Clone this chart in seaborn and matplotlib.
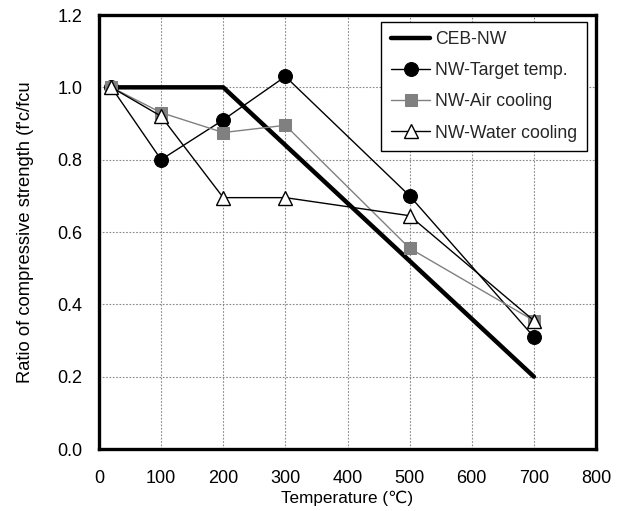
import matplotlib
matplotlib.use("Agg")
import matplotlib.pyplot as plt
import seaborn as sns
import pandas as pd

sns.set_theme(style="white")
plt.rcParams['font.family'] = ['Liberation Sans', 'DejaVu Sans']

ceb_temp = [20, 200, 700]
ceb_ratio = [1.0, 1.0, 0.2]

temps = [20, 100, 200, 300, 500, 700]
target_ratio = [1.0, 0.80, 0.91, 1.03, 0.70, 0.31]
air_ratio = [1.0, 0.93, 0.875, 0.895, 0.555, 0.355]
water_ratio = [1.0, 0.92, 0.695, 0.695, 0.645, 0.355]

x_ticks = [0, 100, 200, 300, 400, 500, 600, 700, 800]
y_ticks = [0.0, 0.2, 0.4, 0.6, 0.8, 1.0, 1.2]

fig = plt.figure(figsize=(6.21, 5.11), dpi=100)
ax = fig.add_axes([99/621, 1 - 449/511, (596-99)/621, (449-15)/511])

sns.lineplot(x=ceb_temp, y=ceb_ratio, ax=ax, color='black', linewidth=3.2,
             label='CEB-NW', estimator=None, sort=False)
sns.lineplot(x=temps, y=target_ratio, ax=ax, color='black', linewidth=1.0,
             marker='o', markersize=10, markeredgecolor='black', markerfacecolor='black',
             label='NW-Target temp.', estimator=None, sort=False)
sns.lineplot(x=temps, y=air_ratio, ax=ax, color='#808080', linewidth=1.0,
             marker='s', markersize=8, markeredgecolor='#808080', markerfacecolor='#808080',
             label='NW-Air cooling', estimator=None, sort=False)
sns.lineplot(x=temps, y=water_ratio, ax=ax, color='black', linewidth=1.0,
             marker='^', markersize=10, markeredgecolor='black', markerfacecolor='white',
             markeredgewidth=1.0, label='NW-Water cooling', estimator=None, sort=False)

ax.set_xlim(0, 800)
ax.set_ylim(0, 1.2)
ax.set_xticks(x_ticks)
ax.set_yticks(y_ticks)
ax.set_yticklabels([f"{v:.1f}" for v in y_ticks])
ax.grid(True, color='#888888', linestyle=(0, (1.5, 1.5)), linewidth=0.8)
ax.set_axisbelow(True)
ax.tick_params(direction='in', length=4, width=1, colors='black', labelsize=13)
ax.tick_params(axis='x', pad=15)
ax.tick_params(axis='y', pad=12)
for lbl in ax.get_xticklabels() + ax.get_yticklabels():
    lbl.set_color('black')
for s in ax.spines.values():
    s.set_visible(True)
    s.set_color('black')
    s.set_linewidth(2.4)

ax.set_xlabel('Temperature (℃)', fontsize=12.3, color='black', labelpad=3)
ax.set_ylabel("Ratio of compressive strength (f'c/fcu", fontsize=13.2, color='black', labelpad=17)

leg = ax.legend(loc='upper right', bbox_to_anchor=(0.982, 0.985), fontsize=12.7, frameon=True,
                fancybox=False, edgecolor='black', framealpha=1, handlelength=2.2,
                labelspacing=0.8, borderpad=0.55, handletextpad=0.3, borderaxespad=0)
leg.get_frame().set_linewidth(1.0)

fig.savefig('out.png', dpi=100)
